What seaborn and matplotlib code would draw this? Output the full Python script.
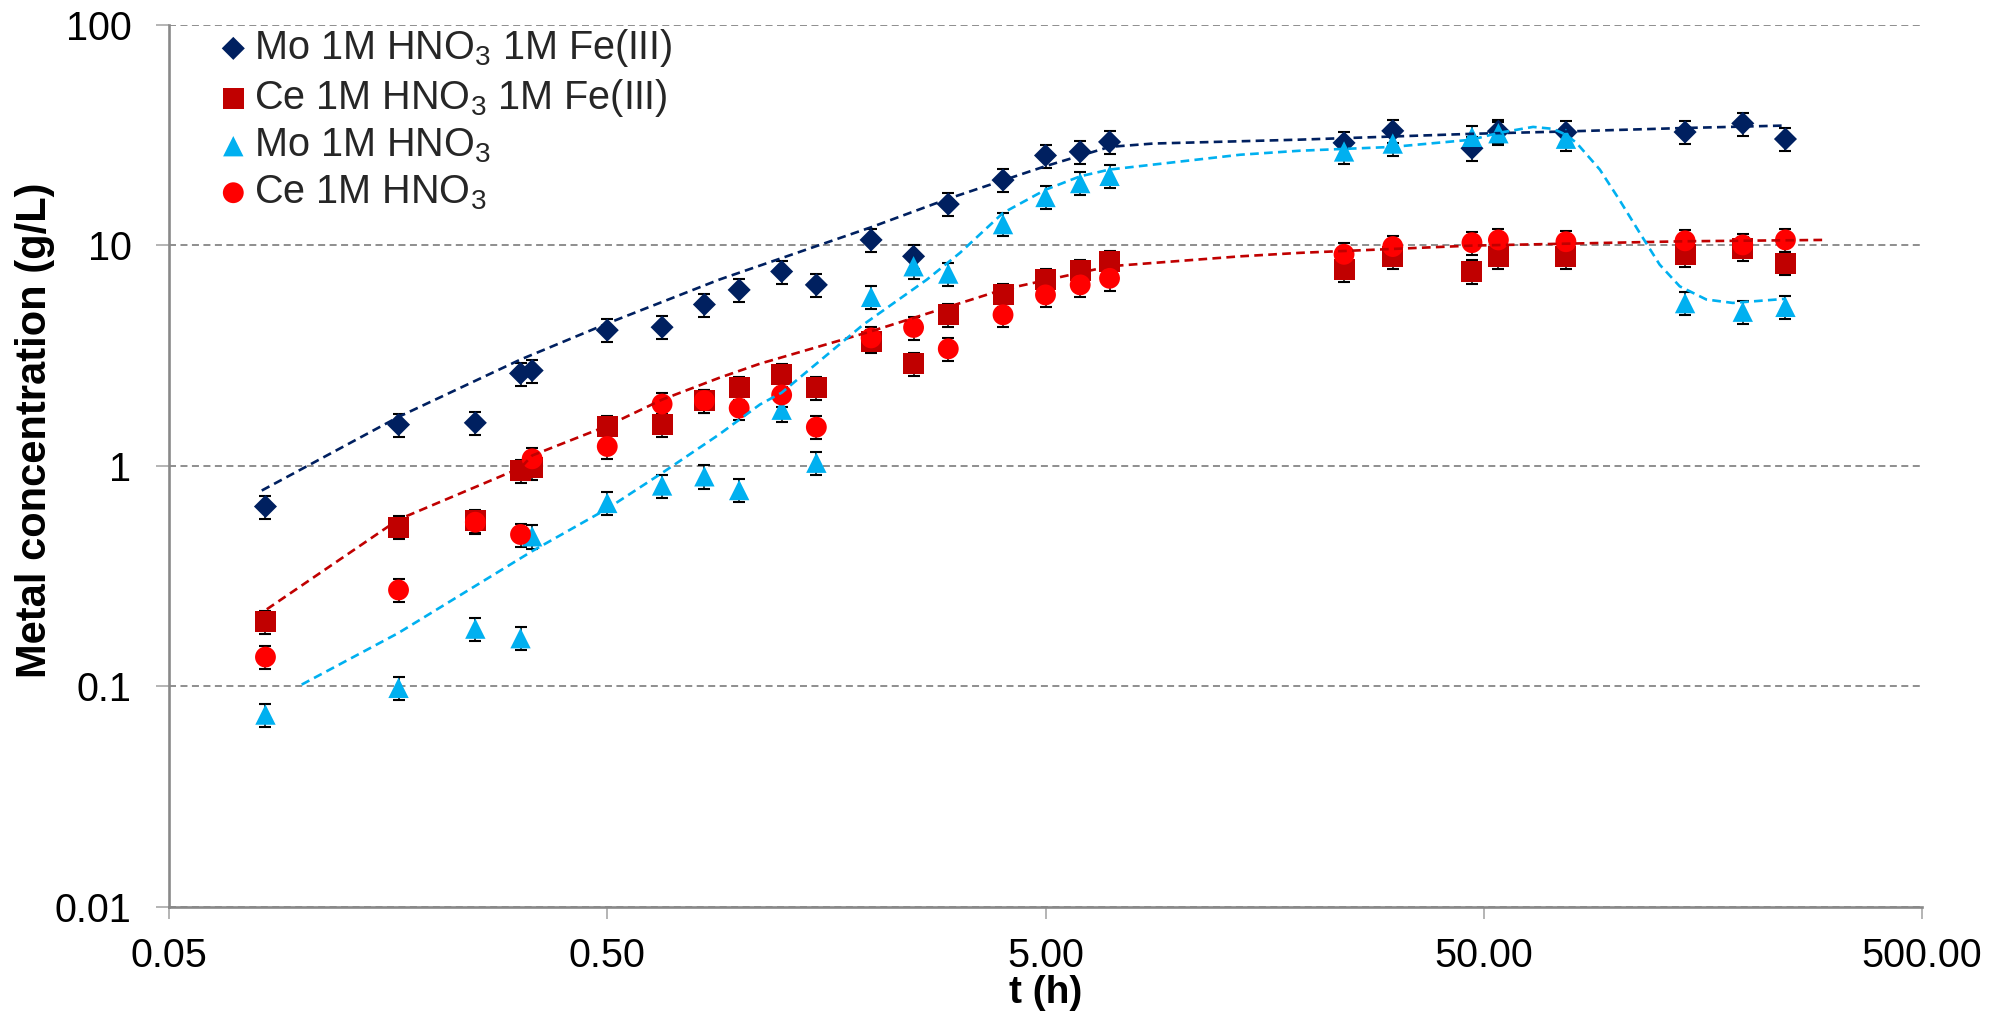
import matplotlib
matplotlib.use("Agg")
import matplotlib.pyplot as plt
import seaborn as sns
from matplotlib.ticker import FixedLocator, FixedFormatter, NullLocator

# ---------------- data ----------------
t_h = [0.083, 0.167, 0.25, 0.317, 0.337, 0.5, 0.667, 0.833, 1.0, 1.25, 1.5,
       2.0, 2.5, 3.0, 4.0, 5.0, 6.0, 7.0, 24, 31, 47, 54, 77, 144, 195, 244]

mo_fe = [0.655, 1.54, 1.57, 2.63, 2.71, 4.13, 4.26, 5.4, 6.29, 7.62, 6.63,
         10.6, 8.93, 15.4, 19.8, 25.6, 26.6, 29.5, 29.2, 33.1, 27.6, 33.0,
         32.6, 32.7, 35.8, 30.4]
ce_fe = [0.197, 0.528, 0.566, 0.954, 0.98, 1.51, 1.54, 1.98, 2.26, 2.60, 2.27,
         3.68, 2.91, 4.85, 5.99, 6.98, 7.69, 8.43, 7.78, 8.93, 7.64, 8.9,
         8.9, 9.09, 9.71, 8.32]
mo_hno3 = [0.0746, 0.0986, 0.183, 0.1656, 0.48, 0.68, 0.816, 0.898, 0.778,
           1.80, 1.035, 5.85, 8.05, 7.46, 12.5, 16.6, 19.2, 20.7, 26.7, 29.0,
           31.1, 32.3, 30.5, 5.48, 5.01, 5.27]
ce_hno3 = [0.136, 0.274, 0.556, 0.489, 1.078, 1.226, 1.91, 1.98, 1.83, 2.10,
           1.50, 3.81, 4.25, 3.40, 4.85, 5.97, 6.63, 7.10, 9.12, 9.89, 10.3,
           10.6, 10.4, 10.5, 10.06, 10.6]
rel_err = 0.12  # relative error bar size

# dashed trend curves
fit_mo_fe_t = [0.0814, 0.167, 0.317, 0.5, 0.9, 2.0, 3.0, 5.0, 7.0, 8.8, 13.9,
               19, 47, 77, 143, 244]
fit_mo_fe_y = [0.774, 1.67, 3.04, 4.43, 7.0, 12.1, 16.3, 22.9, 28.0, 29.0,
               29.7, 30.2, 32.1, 32.9, 34.1, 35.0]
fit_ce_fe_t = [0.0836, 0.167, 0.317, 0.337, 0.5, 0.667, 0.9, 1.115, 2.0, 4.0,
               7.0, 13.9, 19, 47, 143, 300]
fit_ce_fe_y = [0.224, 0.572, 0.98, 1.116, 1.52, 2.0, 2.51, 2.91, 4.08, 6.31,
               8.05, 8.93, 9.26, 9.99, 10.45, 10.6]
fit_mo_t = [0.1004, 0.167, 0.337, 0.5, 0.667, 0.9, 1.115, 1.25, 1.92, 2.68,
            3.19, 4.0, 5.0, 6.0, 7.0, 13.9, 19, 31, 47, 54, 64.8, 72, 77,
            81.4, 92, 102, 113.5, 126, 140, 161, 185, 244]
fit_mo_y = [0.102, 0.175, 0.411, 0.64, 0.93, 1.39, 1.90, 2.15, 4.38, 7.0,
            9.26, 14.05, 17.9, 20.6, 22.1, 25.8, 26.9, 28.0, 30.2, 32.4, 34.5,
            33.8, 31.8, 29.2, 22.1, 16.1, 11.4, 8.19, 6.53, 5.69, 5.49, 5.73]

series_labels = ["Mo 1M HNO$_3$ 1M Fe(III)", "Ce 1M HNO$_3$ 1M Fe(III)",
                 "Mo 1M HNO$_3$", "Ce 1M HNO$_3$"]
x_ticks = [0.05, 0.5, 5, 50, 500]
x_tick_labels = ["0.05", "0.50", "5.00", "50.00", "500.00"]
y_ticks = [0.01, 0.1, 1, 10, 100]
y_tick_labels = ["0.01", "0.1", "1", "10", "100"]
x_label = "t (h)"
y_label = "Metal concentration (g/L)"

# ---------------- style ----------------
sns.set_theme(style="white")
plt.rcParams['font.family'] = ['Liberation Sans', 'DejaVu Sans']
plt.rcParams['mathtext.fontset'] = 'custom'
plt.rcParams['mathtext.rm'] = 'Liberation Sans'
plt.rcParams['mathtext.it'] = 'Liberation Sans:italic'
plt.rcParams['mathtext.bf'] = 'Liberation Sans:bold'
plt.rcParams['mathtext.default'] = 'regular'

C_NAVY = '#002060'
C_DRED = '#C00000'
C_LBLUE = '#00B0F0'
C_RED = '#FF0000'
AX_GRAY = '#898989'
FS = 28.5

fig = plt.figure(figsize=(20.04, 10.11), dpi=100)
ax = fig.add_axes([169 / 2004, 1 - 907 / 1011, (1922 - 169) / 2004, (907 - 25) / 1011])
ax.set_xscale('log')
ax.set_yscale('log')

series = [
    (mo_fe, 'D', C_NAVY, 138),
    (ce_fe, 's', C_DRED, 228),
    (mo_hno3, '^', C_LBLUE, 215),
    (ce_hno3, 'o', C_RED, 225),
]

handles = []
for i, (vals, mk, col, size) in enumerate(series):
    ax.errorbar(t_h, vals, yerr=[v * rel_err for v in vals], fmt='none',
                ecolor='black', elinewidth=1.1, capsize=4.6, capthick=1.5,
                zorder=2 + i * 0.1)
    sns.scatterplot(x=t_h, y=vals, marker=mk, color=col, s=size, linewidth=0,
                    edgecolor='none', ax=ax, zorder=3 + i * 0.1, legend=False)
    handles.append(ax.collections[-1])

for ft, fy, col in [(fit_mo_fe_t, fit_mo_fe_y, C_NAVY),
                    (fit_ce_fe_t, fit_ce_fe_y, C_DRED),
                    (fit_mo_t, fit_mo_y, C_LBLUE)]:
    sns.lineplot(x=ft, y=fy, color=col, linewidth=1.9, ax=ax, zorder=5,
                 estimator=None, sort=False, legend=False)
    ax.lines[-1].set_linestyle((0, (3.3, 2.0)))

ax.set_xlim(0.05, 500)
ax.set_ylim(0.01, 100)

ax.xaxis.set_major_locator(FixedLocator(x_ticks))
ax.xaxis.set_major_formatter(FixedFormatter(x_tick_labels))
ax.xaxis.set_minor_locator(NullLocator())
ax.yaxis.set_major_locator(FixedLocator(y_ticks))
ax.yaxis.set_major_formatter(FixedFormatter(y_tick_labels))
ax.yaxis.set_minor_locator(NullLocator())

ax.yaxis.grid(True, which='major', linestyle=(0, (3.6, 2.3)), color='#8e8e8e',
              linewidth=1.4, zorder=0)
ax.xaxis.grid(False)
ax.set_axisbelow(True)

for s in ['top', 'right']:
    ax.spines[s].set_visible(False)
for s in ['left', 'bottom']:
    ax.spines[s].set_color(AX_GRAY)
    ax.spines[s].set_linewidth(1.9)

ax.tick_params(axis='x', which='major', bottom=True, direction='out', length=8.6,
               width=1.1, color='#a0a0a0', pad=13, labelsize=FS, labelcolor='black')
ax.tick_params(axis='y', which='major', left=True, direction='out', length=9.4,
               width=1.1, color='#a0a0a0', pad=17.6, labelsize=FS, labelcolor='black')

ax.set_xlabel(x_label, fontsize=28, fontweight='bold', color='black')
ax.set_ylabel(y_label, fontsize=30, fontweight='bold', color='black')
ax.xaxis.label.set_va('center')
ax.yaxis.label.set_va('center')
ax.xaxis.set_label_coords(0.5, -0.0975)
ax.yaxis.set_label_coords(-0.0764, 0.541)

leg = ax.legend(handles, series_labels, loc='upper left',
                bbox_to_anchor=(0.0299, 0.998), frameon=False, fontsize=FS,
                handlelength=0.6, handletextpad=0.23, labelspacing=0.2,
                borderpad=0, borderaxespad=0, markerscale=1)

fig.savefig('out.png', dpi=100)
